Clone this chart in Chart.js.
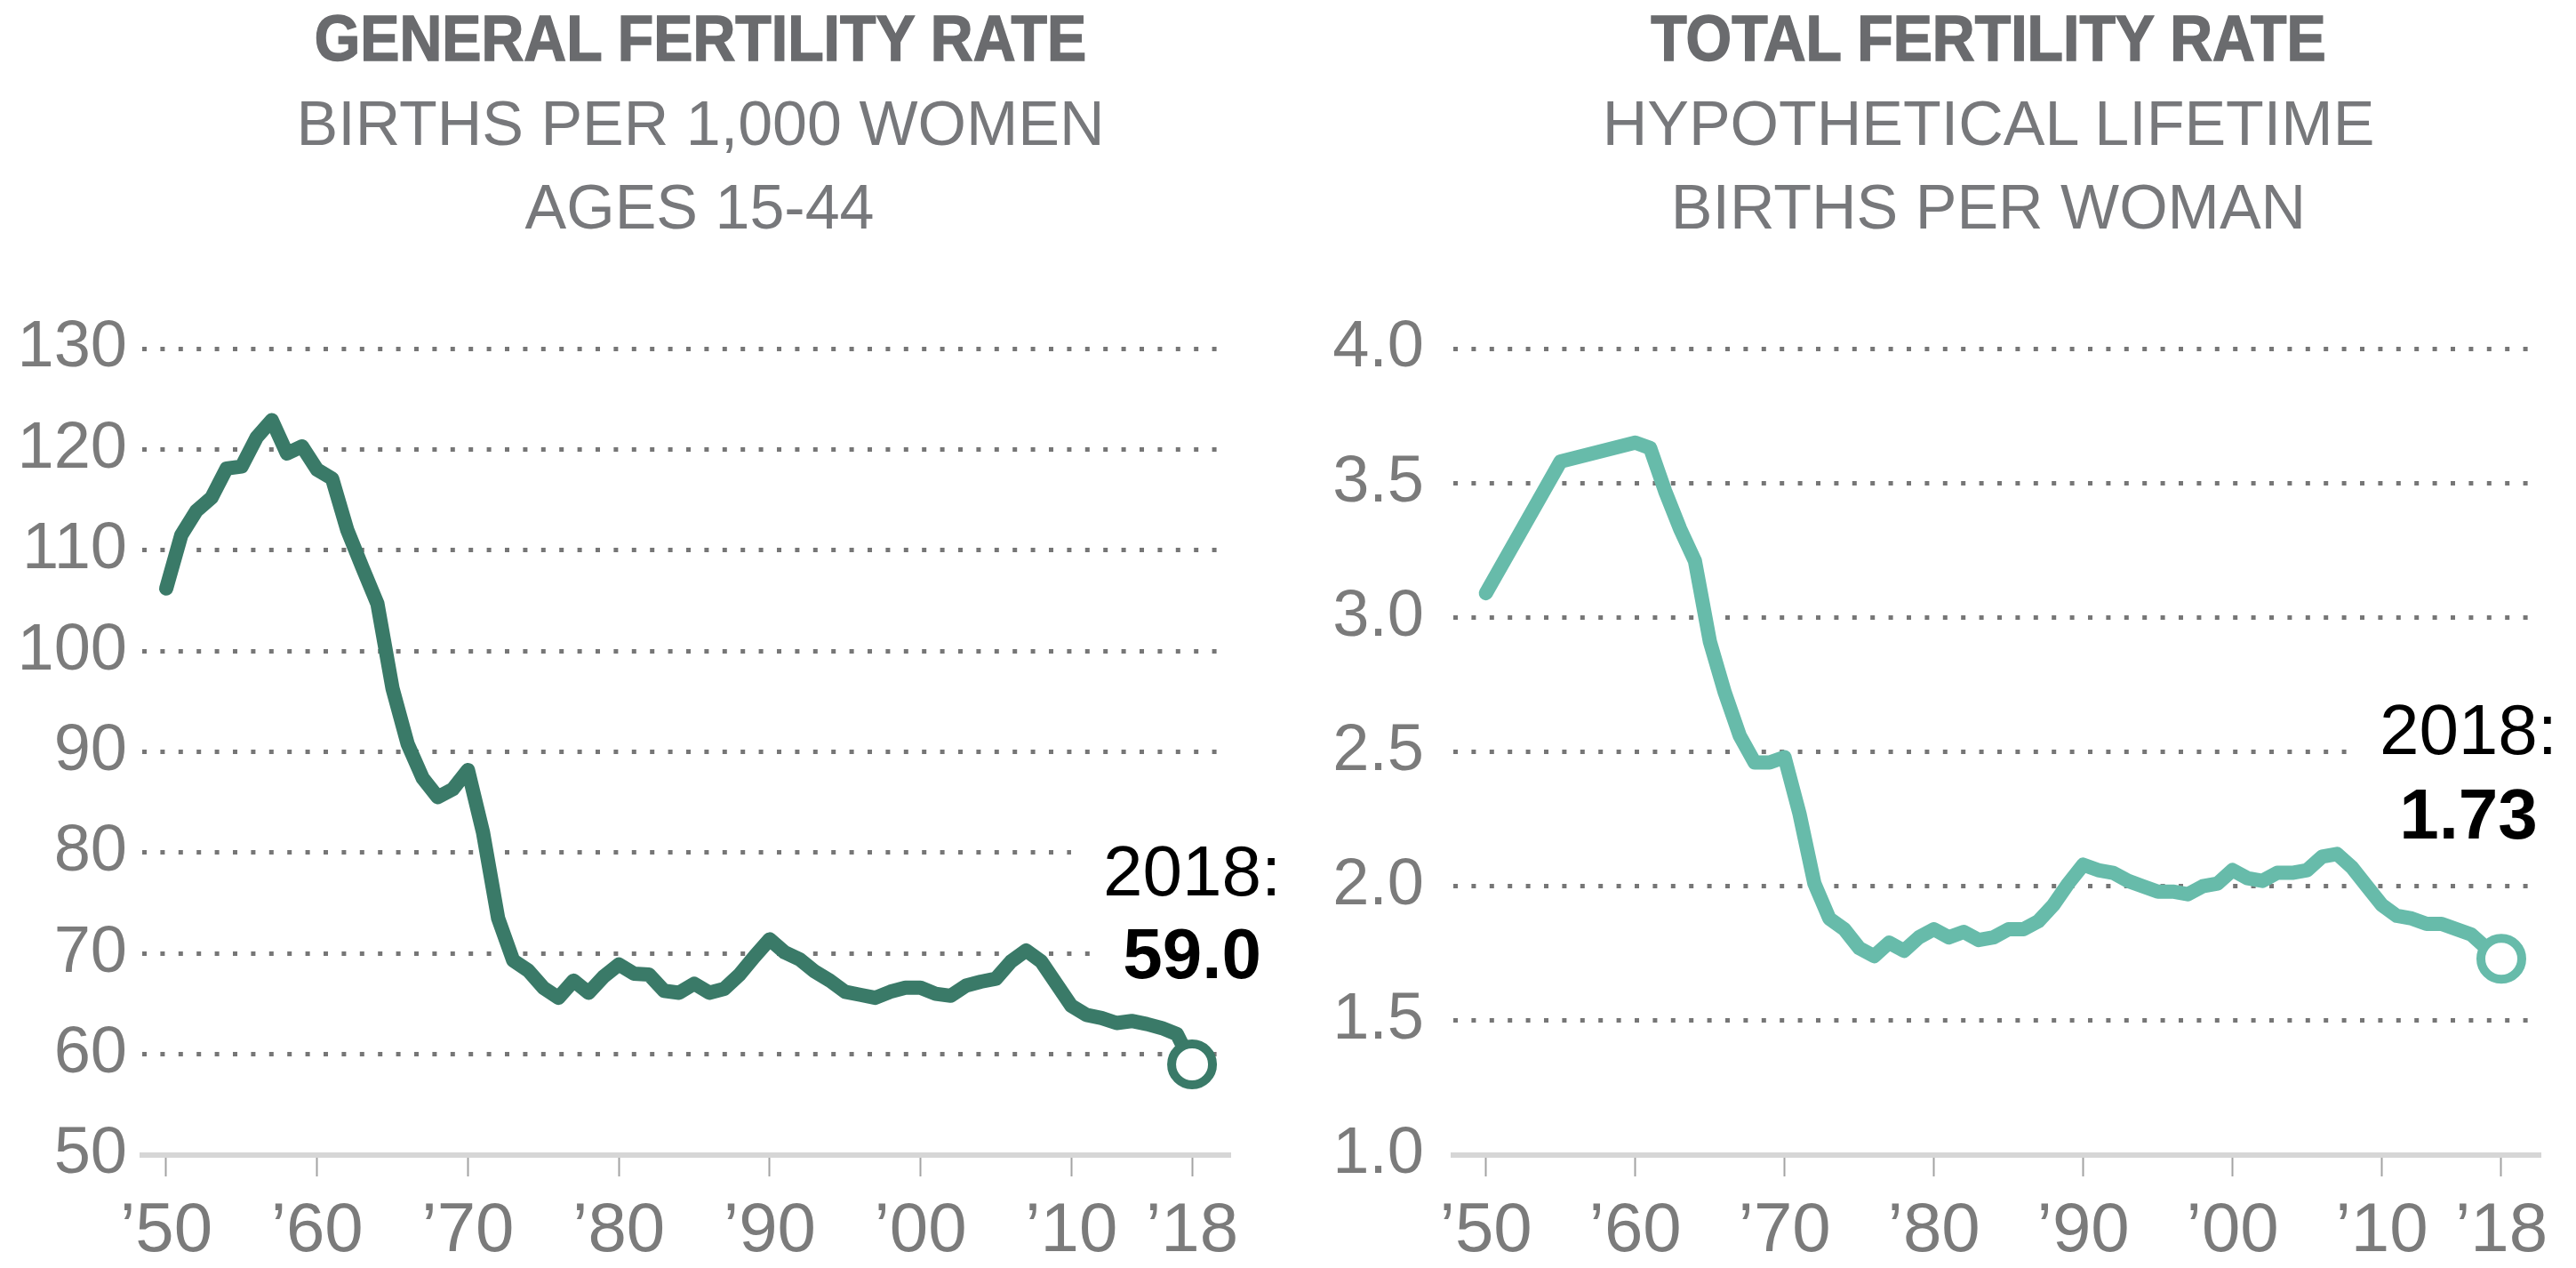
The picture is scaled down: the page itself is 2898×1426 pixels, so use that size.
<!DOCTYPE html>
<html>
<head>
<meta charset="utf-8">
<script src="https://cdn.jsdelivr.net/npm/chart.js@4.4.1/dist/chart.umd.min.js"></script>
<style>
  html, body { margin:0; padding:0; background:#fff; width:2898px; height:1426px; overflow:hidden; }
  .panel { position:absolute; top:0; width:1449px; height:1426px; }
  .cbox { position:absolute; left:0; top:0; width:1449px; height:1426px; }
  .t { position:absolute; white-space:nowrap; font-family:"Liberation Sans", Arial, sans-serif; color:#6d6e71; }
  .t1 { font-size:72px; line-height:72px; font-weight:bold; transform:translateX(-50%) scaleX(0.92); top:7px; color:#6a6b6e; -webkit-text-stroke:1.5px #6a6b6e; }
  .t2 { font-size:70px; line-height:70px; font-weight:normal; transform:translateX(-50%); color:#77787b; }
</style>
</head>
<body>
<div class="panel" style="left:0">
  <div class="t t1" style="left:788px">GENERAL FERTILITY RATE</div>
  <div class="t t2" style="left:788px; top:104px">BIRTHS PER 1,000 WOMEN</div>
  <div class="t t2" style="left:787px; top:198px">AGES 15-44</div>
  <div class="cbox"><canvas id="gfr"></canvas></div>
</div>
<div class="panel" style="left:1449px">
  <div class="t t1" style="left:788px">TOTAL FERTILITY RATE</div>
  <div class="t t2" style="left:788px; top:104px">HYPOTHETICAL LIFETIME</div>
  <div class="t t2" style="left:788px; top:198px">BIRTHS PER WOMAN</div>
  <div class="cbox"><canvas id="tfr"></canvas></div>
</div>
<script>
// ---------- data ----------
const gfrYears = [1950,1951,1952,1953,1954,1955,1956,1957,1958,1959,
  1960,1961,1962,1963,1964,1965,1966,1967,1968,1969,
  1970,1971,1972,1973,1974,1975,1976,1977,1978,1979,
  1980,1981,1982,1983,1984,1985,1986,1987,1988,1989,
  1990,1991,1992,1993,1994,1995,1996,1997,1998,1999,
  2000,2001,2002,2003,2004,2005,2006,2007,2008,2009,
  2010,2011,2012,2013,2014,2015,2016,2017,2018];
const gfrValues = [106.2,111.5,113.9,115.2,118.1,118.3,121.2,122.9,119.6,120.3,
  118.0,117.1,112.0,108.3,104.7,96.3,90.8,87.4,85.5,86.3,
  88.2,82.0,73.5,69.3,68.3,66.6,65.6,67.3,66.1,67.7,
  68.9,68.0,67.9,66.3,66.1,67.0,66.1,66.5,67.9,69.7,
  71.4,70.1,69.4,68.2,67.3,66.2,65.9,65.6,66.2,66.6,
  66.6,66.0,65.8,66.8,67.2,67.5,69.2,70.3,69.2,67.0,
  64.8,63.9,63.6,63.1,63.3,63.0,62.6,62.0,59.0];

const tfrYears = [1950,1955,1960,1961,1962,1963,1964,1965,1966,1967,1968,1969,
  1970,1971,1972,1973,1974,1975,1976,1977,1978,1979,
  1980,1981,1982,1983,1984,1985,1986,1987,1988,1989,
  1990,1991,1992,1993,1994,1995,1996,1997,1998,1999,
  2000,2001,2002,2003,2004,2005,2006,2007,2008,2009,
  2010,2011,2012,2013,2014,2015,2016,2017,2018];
const tfrValues = [3.09,3.58,3.65,3.63,3.47,3.33,3.21,2.91,2.72,2.56,2.46,2.46,
  2.48,2.27,2.01,1.88,1.84,1.77,1.74,1.79,1.76,1.81,
  1.84,1.81,1.83,1.80,1.81,1.84,1.84,1.87,1.93,2.01,
  2.08,2.06,2.05,2.02,2.00,1.98,1.98,1.97,2.00,2.01,
  2.06,2.03,2.02,2.05,2.05,2.06,2.11,2.12,2.07,2.00,
  1.93,1.89,1.88,1.86,1.86,1.84,1.82,1.77,1.73];

const xTickYears = [1950,1960,1970,1980,1990,2000,2010,2018];
const gfrYTicks = [50,60,70,80,90,100,110,120,130];
const tfrYTicks = [1.0,1.5,2.0,2.5,3.0,3.5,4.0];
const gfrLabel = ['2018:', '59.0'];
const tfrLabel = ['2018:', '1.73'];

// ---------- helpers ----------
const FONT = '"Liberation Sans", Arial, sans-serif';

const endLabelPlugin = {
  id: 'endLabel',
  beforeDatasetsDraw(chart, args, opts) {
    const ctx = chart.ctx;
    const cx = chart.scales.x.getPixelForValue(opts.year) + opts.dx;
    ctx.save();
    opts.lines.forEach((l, i) => {
      ctx.font = (i === 1 ? 'bold ' : '') + '80px ' + FONT;
      const w = ctx.measureText(l).width;
      ctx.fillStyle = '#ffffff';
      ctx.fillRect(cx - w / 2 - 36, opts.baselines[i] - 72, w + 72, 92);
      ctx.fillStyle = '#000000';
      ctx.textAlign = 'center';
      ctx.textBaseline = 'alphabetic';
      ctx.fillText(l, cx, opts.baselines[i]);
    });
    ctx.restore();
  }
};

function makeChart(id, cfg) {
  const pts = cfg.years.map((y, i) => ({ x: y, y: cfg.values[i] }));
  return new Chart(document.getElementById(id), {
    type: 'line',
    data: {
      datasets: [{
        data: pts,
        borderColor: cfg.color,
        borderWidth: 16,
        tension: 0,
        borderJoinStyle: 'round',
        borderCapStyle: 'round',
        pointRadius: c => c.dataIndex === pts.length - 1 ? 23 : 0,
        pointHoverRadius: c => c.dataIndex === pts.length - 1 ? 23 : 0,
        pointBorderWidth: 10,
        pointBackgroundColor: '#ffffff',
        pointBorderColor: cfg.color,
        clip: false
      }]
    },
    options: {
      responsive: true,
      maintainAspectRatio: false,
      devicePixelRatio: 1,
      animation: false,
      events: [],
      layout: { padding: { top: 392, right: cfg.padRight, bottom: 0, left: 0 } },
      plugins: {
        legend: { display: false },
        tooltip: { enabled: false },
        endLabel: { year: 2018, dx: cfg.labelDx, lines: cfg.label, baselines: cfg.baselines }
      },
      scales: {
        x: {
          type: 'linear',
          min: cfg.xMin,
          max: cfg.xMax,
          afterBuildTicks: s => { s.ticks = xTickYears.map(v => ({ value: v })); },
          afterFit: s => { s.height = 127; },
          border: { display: true, color: '#d6d6d6', width: 6 },
          grid: { drawOnChartArea: false, drawTicks: true, tickLength: 24, tickColor: '#a3a3a3', tickWidth: 2 },
          ticks: {
            autoSkip: false,
            maxRotation: 0,
            padding: 16,
            color: '#7b7b7b',
            font: { family: FONT, size: 78 },
            callback: v => '\u2019' + String(v).slice(2)
          }
        },
        y: {
          min: cfg.yTicks[0],
          max: cfg.yTicks[cfg.yTicks.length - 1],
          afterBuildTicks: s => { s.ticks = cfg.yTicks.map(v => ({ value: v })); },
          afterFit: s => { s.width = cfg.yWidth; },
          border: { display: false, dash: [5, 15.4], dashOffset: 0 },
          grid: {
            drawTicks: false,
            color: c => (c.tick && c.tick.value === cfg.yTicks[0]) ? 'rgba(0,0,0,0)' : '#767676',
            lineWidth: 5
          },
          ticks: {
            padding: cfg.yPad,
            color: '#7b7b7b',
            font: { family: FONT, size: 74 },
            callback: cfg.yFmt
          }
        }
      }
    },
    plugins: [endLabelPlugin]
  });
}

makeChart('gfr', {
  years: gfrYears, values: gfrValues, color: '#3a7a68',
  xMin: 1948.41, xMax: 2020.53, yTicks: gfrYTicks,
  yWidth: 160, yPad: 17, padRight: 65,
  yFmt: v => String(v),
  label: gfrLabel, labelDx: 0, baselines: [1007, 1100]
});

makeChart('tfr', {
  years: tfrYears, values: tfrValues, color: '#67bbaa',
  xMin: 1947.82, xMax: 2020.62, yTicks: tfrYTicks,
  yWidth: 186, yPad: 33, padRight: 40,
  yFmt: v => Number(v).toFixed(1),
  label: tfrLabel, labelDx: -37, baselines: [848, 943]
});
</script>
</body>
</html>
